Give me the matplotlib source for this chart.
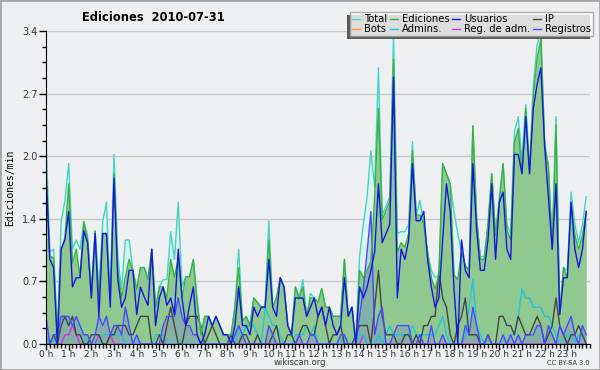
import matplotlib
matplotlib.use("Agg")
import matplotlib.pyplot as plt
import numpy as np
from matplotlib.patches import Rectangle
from matplotlib.transforms import IdentityTransform

# 10-minute bins over the day, values in edits/min
hours = np.arange(144) / 6.0
hour_labels = [f"{h} h" for h in range(24)]

total = [
    2.26, 1.0, 1.03, 0.1, 1.33, 1.56, 1.96, 1.03, 1.13, 1.03, 1.33, 1.18, 0.6, 1.23, 0.6, 1.33, 1.54, 0.5, 2.06, 0.96, 0.59, 1.13, 1.13, 0.8,
    0.6, 0.83, 0.83, 0.7, 1.03, 0.4, 0.62, 0.7, 0.7, 1.22, 0.92, 1.54, 0.62, 0.73, 0.73, 0.92, 0.47, 0.1, 0.3, 0.3, 0.2, 0.3, 0.2, 0.1,
    0.1, 0.1, 0.4, 1.03, 0.25, 0.3, 0.2, 0.5, 0.45, 0.4, 0.4, 1.34, 0.4, 0.5, 0.72, 0.62, 0.2, 0.1, 0.62, 0.5, 0.7, 0.3, 0.55, 0.5,
    0.45, 0.6, 0.4, 0.4, 0.3, 0.3, 0.3, 0.92, 0.3, 0.4, 0.0, 0.95, 1.3, 1.6, 2.1, 1.7, 3.0, 1.4, 1.5, 1.6, 3.37, 1.2, 1.22, 1.22,
    1.3, 2.2, 1.4, 1.56, 1.3, 1.0, 0.8, 0.72, 0.75, 1.96, 1.85, 1.74, 1.44, 1.2, 1.0, 0.85, 0.8, 2.37, 1.35, 0.95, 0.95, 1.3, 1.85, 1.2,
    1.6, 1.96, 1.3, 1.2, 2.3, 2.47, 2.0, 2.6, 1.9, 2.8, 3.25, 3.4, 2.2, 1.93, 1.1, 2.47, 0.35, 0.83, 0.8, 1.65, 1.3, 1.1, 1.3, 1.6,
]
ediciones = [
    1.93, 0.95, 0.94, 0.1, 1.03, 1.15, 1.74, 0.88, 1.03, 0.73, 1.33, 1.13, 0.5, 1.23, 0.5, 1.2, 1.2, 0.5, 1.85, 0.8, 0.5, 0.73, 0.92, 0.8,
    0.59, 0.83, 0.83, 0.7, 1.03, 0.4, 0.62, 0.62, 0.5, 0.92, 0.73, 0.92, 0.5, 0.73, 0.73, 0.92, 0.47, 0.1, 0.3, 0.3, 0.2, 0.3, 0.2, 0.1,
    0.1, 0.1, 0.4, 0.83, 0.25, 0.3, 0.2, 0.5, 0.45, 0.4, 0.4, 1.13, 0.4, 0.5, 0.72, 0.62, 0.2, 0.1, 0.62, 0.5, 0.62, 0.3, 0.5, 0.5,
    0.45, 0.6, 0.4, 0.4, 0.3, 0.3, 0.3, 0.92, 0.3, 0.4, 0.0, 0.8, 0.72, 0.8, 0.9, 1.6, 2.56, 1.35, 1.45, 1.55, 3.09, 1.0, 1.1, 1.05,
    1.2, 2.1, 1.4, 1.4, 1.3, 1.0, 0.72, 0.6, 0.75, 1.96, 1.85, 1.74, 0.75, 0.7, 1.0, 0.85, 0.8, 2.37, 1.35, 0.92, 0.92, 1.3, 1.85, 1.18,
    1.54, 1.96, 1.24, 1.13, 2.19, 2.34, 1.85, 2.56, 1.85, 2.7, 3.1, 3.31, 2.15, 1.93, 1.03, 2.38, 0.32, 0.83, 0.72, 1.54, 1.18, 1.03, 1.18, 1.44,
]
usuarios = [
    1.85, 0.92, 0.83, 0.0, 1.03, 1.13, 1.44, 0.62, 0.72, 0.72, 1.23, 1.1, 0.5, 1.2, 0.3, 1.2, 1.2, 0.4, 1.8, 0.7, 0.4, 0.5, 0.8, 0.8,
    0.32, 0.62, 0.51, 0.42, 1.03, 0.2, 0.5, 0.62, 0.42, 0.5, 0.32, 1.03, 0.5, 0.2, 0.42, 0.62, 0.1, 0.0, 0.1, 0.3, 0.2, 0.3, 0.2, 0.1,
    0.1, 0.0, 0.2, 0.62, 0.2, 0.2, 0.1, 0.4, 0.3, 0.4, 0.4, 0.92, 0.4, 0.3, 0.72, 0.62, 0.2, 0.1, 0.5, 0.5, 0.5, 0.3, 0.4, 0.5,
    0.3, 0.4, 0.2, 0.4, 0.2, 0.1, 0.2, 0.72, 0.3, 0.4, 0.0, 0.62, 0.5, 0.62, 0.8, 1.0, 1.74, 1.1, 1.2, 1.3, 2.9, 0.5, 1.03, 0.92,
    1.13, 1.96, 1.34, 1.34, 1.44, 0.92, 0.62, 0.4, 0.5, 1.13, 1.74, 1.44, 0.6, 0.0, 1.13, 0.8, 0.72, 1.96, 1.24, 0.8, 0.8, 1.13, 1.74, 0.92,
    1.54, 1.65, 1.03, 0.92, 2.06, 2.06, 1.85, 2.47, 1.85, 2.56, 2.82, 3.0, 2.15, 1.59, 1.03, 1.74, 0.32, 0.72, 0.72, 1.54, 1.03, 0.83, 1.03, 1.44,
]
ip = [
    0.0, 0.0, 0.1, 0.0, 0.2, 0.3, 0.2, 0.3, 0.1, 0.1, 0.0, 0.0, 0.1, 0.1, 0.1, 0.0, 0.0, 0.1, 0.1, 0.2, 0.2, 0.2, 0.1, 0.1,
    0.2, 0.3, 0.3, 0.3, 0.0, 0.0, 0.1, 0.0, 0.2, 0.4, 0.2, 0.0, 0.0, 0.2, 0.3, 0.3, 0.3, 0.2, 0.0, 0.1, 0.2, 0.1, 0.0, 0.0,
    0.0, 0.1, 0.0, 0.0, 0.1, 0.1, 0.0, 0.0, 0.1, 0.0, 0.0, 0.0, 0.1, 0.2, 0.0, 0.0, 0.1, 0.1, 0.0, 0.1, 0.2, 0.2, 0.1, 0.1,
    0.3, 0.4, 0.2, 0.0, 0.1, 0.1, 0.2, 0.0, 0.0, 0.0, 0.1, 0.2, 0.2, 0.2, 0.0, 0.4, 0.8, 0.3, 0.1, 0.1, 0.1, 0.0, 0.0, 0.1,
    0.1, 0.0, 0.1, 0.0, 0.2, 0.2, 0.3, 0.3, 0.8, 0.5, 0.4, 0.1, 0.0, 0.2, 0.3, 0.5, 0.1, 0.1, 0.1, 0.0, 0.0, 0.1, 0.0, 0.0,
    0.3, 0.3, 0.2, 0.2, 0.1, 0.3, 0.2, 0.1, 0.1, 0.2, 0.3, 0.2, 0.0, 0.1, 0.2, 0.5, 0.2, 0.1, 0.0, 0.1, 0.1, 0.2, 0.1, 0.0,
]
bots = [0.0] * 144
admins = [
    0.1, 0.0, 0.0, 0.2, 0.3, 0.3, 0.2, 0.2, 0.2, 0.2, 0.1, 0.0, 0.0, 0.0, 0.0, 0.1, 0.1, 0.1, 0.1, 0.1, 0.1, 0.0, 0.0, 0.0,
    0.0, 0.0, 0.0, 0.0, 0.0, 0.1, 0.1, 0.1, 0.0, 0.0, 0.0, 0.0, 0.0, 0.0, 0.0, 0.0, 0.0, 0.0, 0.0, 0.0, 0.0, 0.0, 0.0, 0.0,
    0.0, 0.0, 0.0, 0.2, 0.1, 0.2, 0.2, 0.2, 0.1, 0.0, 0.4, 0.3, 0.2, 0.2, 0.1, 0.0, 0.0, 0.0, 0.1, 0.1, 0.1, 0.2, 0.1, 0.2,
    0.0, 0.0, 0.0, 0.0, 0.0, 0.0, 0.0, 0.1, 0.0, 0.0, 0.0, 0.1, 0.1, 0.0, 0.0, 0.0, 0.1, 0.0, 0.1, 0.2, 0.1, 0.1, 0.1, 0.1,
    0.1, 0.2, 0.1, 0.1, 0.1, 0.1, 0.1, 0.1, 0.2, 0.3, 0.1, 0.0, 0.0, 0.0, 0.0, 0.1, 0.4, 0.7, 0.2, 0.1, 0.0, 0.0, 0.0, 0.0,
    0.0, 0.0, 0.0, 0.1, 0.1, 0.3, 0.6, 0.5, 0.5, 0.4, 0.4, 0.4, 0.3, 0.3, 0.2, 0.1, 0.0, 0.0, 0.1, 0.1, 0.0, 0.1, 0.1, 0.0,
]
reg_adm = [
    0.0, 0.0, 0.0, 0.0, 0.0, 0.1, 0.1, 0.2, 0.1, 0.0, 0.0, 0.0, 0.0, 0.0, 0.1, 0.0, 0.0, 0.1, 0.0, 0.0, 0.0, 0.0, 0.0, 0.0,
    0.0, 0.0, 0.0, 0.0, 0.0, 0.0, 0.0, 0.0, 0.0, 0.0, 0.0, 0.0, 0.0, 0.0, 0.0, 0.0, 0.0, 0.0, 0.0, 0.0, 0.0, 0.0, 0.0, 0.0,
    0.0, 0.0, 0.0, 0.0, 0.0, 0.0, 0.0, 0.0, 0.0, 0.0, 0.0, 0.0, 0.0, 0.0, 0.0, 0.0, 0.0, 0.0, 0.0, 0.0, 0.0, 0.0, 0.0, 0.0,
    0.0, 0.0, 0.0, 0.0, 0.0, 0.0, 0.0, 0.0, 0.0, 0.0, 0.0, 0.0, 0.1, 0.0, 0.0, 0.0, 0.0, 0.0, 0.0, 0.0, 0.0, 0.0, 0.0, 0.0,
    0.0, 0.0, 0.0, 0.0, 0.0, 0.0, 0.0, 0.0, 0.0, 0.0, 0.0, 0.0, 0.0, 0.0, 0.0, 0.0, 0.0, 0.0, 0.0, 0.0, 0.0, 0.0, 0.0, 0.0,
    0.0, 0.0, 0.0, 0.0, 0.0, 0.0, 0.0, 0.0, 0.0, 0.0, 0.0, 0.0, 0.0, 0.0, 0.0, 0.0, 0.0, 0.0, 0.0, 0.0, 0.0, 0.0, 0.0, 0.0,
]
registros = [
    0.3, 0.0, 0.1, 0.1, 0.3, 0.3, 0.3, 0.2, 0.3, 0.2, 0.1, 0.1, 0.0, 0.1, 0.3, 0.2, 0.3, 0.1, 0.2, 0.2, 0.1, 0.4, 0.2, 0.0,
    0.1, 0.0, 0.0, 0.0, 0.0, 0.0, 0.0, 0.2, 0.3, 0.3, 0.3, 0.5, 0.3, 0.2, 0.2, 0.1, 0.1, 0.0, 0.0, 0.0, 0.0, 0.0, 0.0, 0.0,
    0.0, 0.0, 0.1, 0.2, 0.1, 0.0, 0.0, 0.0, 0.0, 0.0, 0.0, 0.2, 0.1, 0.0, 0.0, 0.0, 0.0, 0.0, 0.0, 0.1, 0.0, 0.0, 0.1, 0.1,
    0.0, 0.0, 0.0, 0.0, 0.0, 0.0, 0.1, 0.1, 0.0, 0.0, 0.0, 0.3, 0.6, 1.0, 1.44, 0.1, 0.3, 0.4, 0.0, 0.0, 0.1, 0.2, 0.2, 0.2,
    0.2, 0.0, 0.0, 0.1, 0.0, 0.0, 0.2, 0.0, 0.0, 0.1, 0.0, 0.0, 0.0, 0.0, 0.0, 0.2, 0.1, 0.4, 0.2, 0.0, 0.0, 0.1, 0.0, 0.0,
    0.0, 0.1, 0.0, 0.1, 0.0, 0.1, 0.0, 0.1, 0.1, 0.1, 0.2, 0.2, 0.0, 0.2, 0.1, 0.0, 0.2, 0.1, 0.2, 0.3, 0.1, 0.0, 0.2, 0.1,
]

bg = "#eeeff1"
fig = plt.figure(figsize=(6, 3.7), dpi=100, facecolor=bg)
ax = fig.add_axes([0.0767, 0.0703, 0.9066, 0.8457])
ax.set_facecolor(bg)

# filled areas
ax.fill_between(hours, total, color="#dcf3ee", lw=0)
ax.fill_between(hours, ediciones, color="#90c990", lw=0)
ax.fill_between(hours, registros, color="#5a5aff", alpha=0.22, lw=0)

lw = 1.0
l_bots, = ax.plot(hours, bots, color="#ff9933", lw=lw, label="Bots")
l_radm, = ax.plot(hours, reg_adm, color="#cc33dd", lw=lw, label="Reg. de adm.")
l_adm, = ax.plot(hours, admins, color="#22c4dd", lw=lw, label="Admins.")
l_ip, = ax.plot(hours, ip, color="#444444", lw=lw, label="IP")
l_reg, = ax.plot(hours, registros, color="#4848ff", lw=lw, label="Registros")
l_tot, = ax.plot(hours, total, color="#44d4c4", lw=lw, label="Total")
l_edi, = ax.plot(hours, ediciones, color="#3cb040", lw=lw, label="Ediciones")
l_usr, = ax.plot(hours, usuarios, color="#1515e0", lw=lw, label="Usuarios")

ax.set_xlim(0, 24)
ax.set_ylim(0, 3.4)
yt = np.linspace(0, 3.4, 6)
ax.set_yticks(yt)
ax.set_yticklabels([f"{v:.1f}" for v in yt])
ax.set_yticks(np.linspace(0, 3.4, 21), minor=True)
ax.set_xticks(range(24))
ax.set_xticklabels(hour_labels)
ax.set_xticks(np.arange(0, 24.01, 1 / 6), minor=True)
ax.tick_params(axis="y", which="major", length=5, width=1, labelsize=7,
               labelcolor="#333333", pad=1)
ax.tick_params(axis="x", which="major", length=4, width=1, labelsize=6.5,
               labelcolor="#333333", pad=0)
ax.tick_params(axis="both", which="minor", length=3, width=1)
ax.grid(axis="y", which="major", color="#c8c8c8", lw=1)
ax.set_axisbelow(True)
for s in ("top", "right"):
    ax.spines[s].set_visible(False)
ax.set_ylabel("Ediciones/min", family="DejaVu Sans Mono", fontsize=7, labelpad=5)

handles = [l_tot, l_bots, l_edi, l_adm, l_usr, l_radm, l_ip, l_reg]
leg = ax.legend(handles=handles, labels=[h.get_label() for h in handles],
                ncol=4, loc="upper right", bbox_to_anchor=(1.0055, 1.0607),
                fontsize=7.2, frameon=True, fancybox=False, shadow=False,
                handlelength=0.8, handletextpad=0.4, columnspacing=0.25,
                labelspacing=0.0, borderpad=0.2, borderaxespad=0.0)
leg.get_frame().set_edgecolor("#999999")
leg.get_frame().set_linewidth(1)

fig.text(0.256, 0.954, "Ediciones  2010-07-31", ha="center", va="center",
         fontsize=8.3, fontweight="bold")
fig.text(0.5, 0.0195, "wikiscan.org", ha="center", va="center", fontsize=6, color="#333333")
fig.text(0.983, 0.0185, "CC BY-SA 3.0", ha="right", va="center", fontsize=4.8, color="#333333")
fig.patches.append(Rectangle((0, 0), 1, 1, transform=fig.transFigure, fill=False,
                             edgecolor="#a8a8a8", lw=2))

# legend shadow offset to the lower left, as in the source chart
fig.canvas.draw()
bb = leg.get_frame().get_window_extent()
ax.add_patch(Rectangle((bb.x0 - 3, bb.y0 - 3), bb.width, bb.height,
                       transform=IdentityTransform(), facecolor="#5a5a5a",
                       edgecolor="none", zorder=4.9, clip_on=False))

fig.savefig("out.png", dpi=100, facecolor=bg)
